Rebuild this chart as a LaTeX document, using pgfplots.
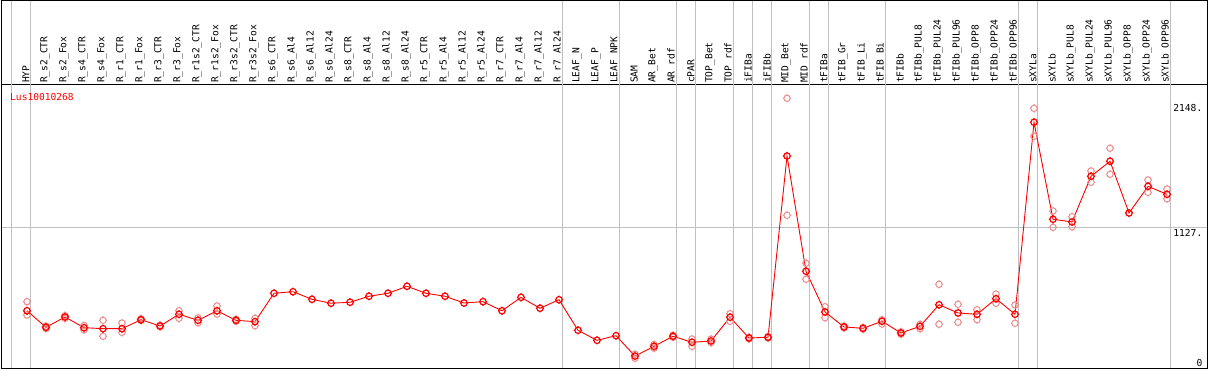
\documentclass[border=0pt]{standalone}
\usepackage{fontspec}
\setmonofont{DejaVu Sans Mono}
\usepackage{pgfplots}
\usepackage{pgfplotstable}
\pgfplotsset{compat=1.18}

\definecolor{mainred}{RGB}{255,0,0}
\definecolor{repred}{RGB}{236,140,140}
\definecolor{gridgray}{RGB}{192,192,192}

\pgfdeclareplotmark{tickcircle}{%
  \pgfpathcircle{\pgfpointorigin}{\pgfplotmarksize}%
  \pgfpathmoveto{\pgfpoint{\pgfplotmarksize}{0pt}}\pgfpathlineto{\pgfpoint{1.3\pgfplotmarksize}{0pt}}%
  \pgfpathmoveto{\pgfpoint{-\pgfplotmarksize}{0pt}}\pgfpathlineto{\pgfpoint{-1.3\pgfplotmarksize}{0pt}}%
  \pgfpathmoveto{\pgfpoint{0pt}{\pgfplotmarksize}}\pgfpathlineto{\pgfpoint{0pt}{1.3\pgfplotmarksize}}%
  \pgfpathmoveto{\pgfpoint{0pt}{-\pgfplotmarksize}}\pgfpathlineto{\pgfpoint{0pt}{-1.3\pgfplotmarksize}}%
  \pgfusepathqstroke}

\pgfplotstableread{
x y
0 450
1 315
2 399
3 312
4 304
5 304
6 377
7 326
8 421
9 372
10 450
11 372
12 361
13 592
14 605
15 543
16 511
17 519
18 568
19 592
20 649
21 592
22 568
23 513
24 524
25 450
26 559
27 470
28 540
29 291
30 209
31 247
32 81
33 160
34 242
35 193
36 204
37 397
38 228
39 234
40 1710
41 771
42 440
43 318
44 307
45 364
46 269
47 323
48 499
49 432
50 421
51 548
52 421
53 1985
54 1195
55 1173
56 1545
57 1667
58 1246
59 1463
60 1398
}\meandata

\pgfplotstableread{
x y
0 524
0 415
1 325
1 305
2 410
2 388
3 330
3 295
4 372
4 242
5 350
5 274
6 385
6 370
7 332
7 320
8 450
8 388
9 392
9 352
10 489
10 423
11 380
11 364
12 388
12 328
32 96
32 63
33 175
33 145
34 250
34 234
35 220
35 160
36 219
36 190
37 426
37 364
38 235
38 222
39 240
39 228
40 2180
40 1227
41 836
41 706
42 483
42 393
43 325
43 310
44 300
44 314
45 377
45 342
46 279
46 259
47 340
47 304
48 665
48 340
49 502
49 356
50 458
50 377
51 586
51 511
52 497
52 348
53 2098
53 1871
54 1262
54 1129
55 1216
55 1134
56 1588
56 1496
57 1773
57 1561
59 1515
59 1414
60 1441
60 1362
}\repdata

\begin{document}
\begin{tikzpicture}
\useasboundingbox (0,0) rectangle (1209pt,370pt);
\begin{axis}[
  at={(1.5pt,1.5pt)}, anchor=south west,
  scale only axis, width=1206pt, height=283.5pt,
  xmin=-1.342, xmax=62.13, ymin=-20.4, ymax=2288.3,
  clip=false,
  axis line style={black, line width=1pt},
  major tick length=0pt,
  xtick={0,...,60},
  xticklabels={HYP,R\_s2\_CTR,R\_s2\_Fox,R\_s4\_CTR,R\_s4\_Fox,R\_r1\_CTR,R\_r1\_Fox,R\_r3\_CTR,R\_r3\_Fox,R\_r1s2\_CTR,R\_r1s2\_Fox,R\_r3s2\_CTR,R\_r3s2\_Fox,R\_s6\_CTR,R\_s6\_Al4,R\_s6\_Al12,R\_s6\_Al24,R\_s8\_CTR,R\_s8\_Al4,R\_s8\_Al12,R\_s8\_Al24,R\_r5\_CTR,R\_r5\_Al4,R\_r5\_Al12,R\_r5\_Al24,R\_r7\_CTR,R\_r7\_Al4,R\_r7\_Al12,R\_r7\_Al24,LEAF\_N,LEAF\_P,LEAF\_NPK,SAM,AR\_Bet,AR\_rdf,cPAR,TOP\_Bet,TOP\_rdf,iFIBa,iFIBb,MID\_Bet,MID\_rdf,tFIBa,tFIB\_Gr,tFIB\_Li,tFIB\_Bi,tFIBb,tFIBb\_PUL8,tFIBb\_PUL24,tFIBb\_PUL96,tFIBb\_OPP8,tFIBb\_OPP24,tFIBb\_OPP96,sXYLa,sXYLb,sXYLb\_PUL8,sXYLb\_PUL24,sXYLb\_PUL96,sXYLb\_OPP8,sXYLb\_OPP24,sXYLb\_OPP96},
  xticklabel pos=upper,
  x tick label style={yshift=2pt, xshift=-1pt, rotate=90, anchor=west, inner sep=0pt},
  ytick={0,2148}, yticklabels={\smash{\raisebox{2pt}{0}},2148.},
  yticklabel pos=right,
  y tick label style={anchor=north east, inner sep=0pt, xshift=-5pt, yshift=-1.5pt},
  extra y ticks={1127}, extra y tick labels={1127.},
  extra y tick style={ymajorgrids=true, major grid style={gridgray, line width=1pt}},
  tick label style={font=\fontsize{9.6}{10}\selectfont\ttfamily},
]
\pgfplotsinvokeforeach{-0.82,0.18,28.18,31.18,34.18,35.18,37.18,38.18,39.18,41.18,42.18,45.18,52.18,53.18,60.18}{
  \draw[gridgray, line width=1pt] (axis cs:#1,-20.4) -- (axis cs:#1,2976);
}
\addplot[only marks, mark=tickcircle, mark size=3.2pt, repred, line width=1pt] table {\repdata};
\addplot[mainred, line width=0.9pt, mark=tickcircle, mark size=3.2pt, mark options={line width=1.2pt}] table {\meandata};
\end{axis}
\draw[black, line width=1pt] (1.5pt,1.5pt) rectangle (1207.5pt,369.5pt);
\node[anchor=west, inner sep=0pt, text=mainred, font=\fontsize{9.6}{10}\selectfont\ttfamily] at (10pt,273.3pt) {Lus10010268};
\end{tikzpicture}
\end{document}
